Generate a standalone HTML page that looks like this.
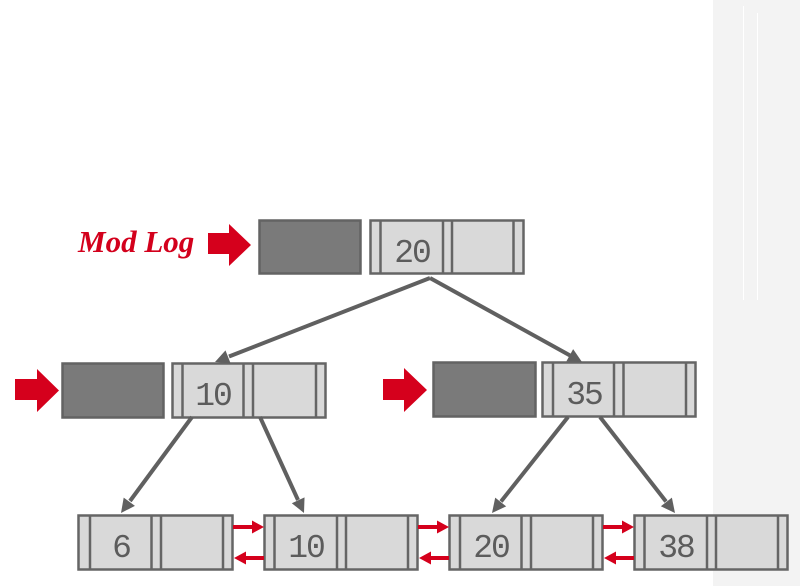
<!DOCTYPE html>
<html>
<head>
<meta charset="utf-8">
<style>
  html,body{margin:0;padding:0;background:#fff;}
  body{width:800px;height:586px;overflow:hidden;position:relative;}
  svg{position:absolute;left:0;top:0;}
  .k{font-family:"Liberation Mono","DejaVu Sans Mono",monospace;font-size:33px;fill:#5c5c5c;letter-spacing:-2px;}
  .ml{font-family:"Liberation Serif",serif;font-style:italic;font-weight:bold;font-size:31px;fill:#d3001c;}
</style>
</head>
<body>
<svg width="800" height="586" viewBox="0 0 800 586" xmlns="http://www.w3.org/2000/svg">
  <!-- right gray strip -->
  <rect x="713" y="0" width="87" height="586" fill="#f3f3f3"/>
  <line x1="743.5" y1="6" x2="743.5" y2="300" stroke="#ffffff" stroke-width="1"/>
  <line x1="757.5" y1="13" x2="757.5" y2="300" stroke="#ffffff" stroke-width="1"/>

  <!-- Mod Log label -->
  <text class="ml" x="78" y="252">Mod Log</text>

  <!-- big red arrows -->
  <polygon points="208,233 229,233 229,224 251,245 229,266 229,254 208,254" fill="#d5001c"/>
  <polygon points="15,379 37,379 37,369 59,390.5 37,412 37,400 15,400" fill="#d5001c"/>
  <polygon points="383,379 404,379 404,368 427,390 404,412 404,400 383,400" fill="#d5001c"/>

  <!-- dark mod log boxes -->
  <rect x="259.5" y="220.5" width="101" height="53" fill="#7a7a7a" stroke="#636363" stroke-width="2.5"/>
  <rect x="62.5" y="363.5" width="101" height="54" fill="#7a7a7a" stroke="#636363" stroke-width="2.5"/>
  <rect x="433.5" y="362.5" width="102" height="54" fill="#7a7a7a" stroke="#636363" stroke-width="2.5"/>

  <!-- key nodes -->
  <g fill="#d9d9d9" stroke="#656565" stroke-width="2.5">
    <!-- root -->
    <rect x="370.5" y="220.5" width="153" height="53"/>
    <line x1="380.5" y1="220.5" x2="380.5" y2="273.5"/>
    <line x1="443" y1="220.5" x2="443" y2="273.5"/>
    <line x1="452" y1="220.5" x2="452" y2="273.5"/>
    <line x1="513.5" y1="220.5" x2="513.5" y2="273.5"/>
    <!-- L2 left -->
    <rect x="172.5" y="363.5" width="153" height="54"/>
    <line x1="182.5" y1="363.5" x2="182.5" y2="417.5"/>
    <line x1="243.5" y1="363.5" x2="243.5" y2="417.5"/>
    <line x1="253" y1="363.5" x2="253" y2="417.5"/>
    <line x1="316" y1="363.5" x2="316" y2="417.5"/>
    <!-- L2 right -->
    <rect x="542.5" y="362.5" width="153" height="54"/>
    <line x1="553" y1="362.5" x2="553" y2="416.5"/>
    <line x1="614" y1="362.5" x2="614" y2="416.5"/>
    <line x1="623.5" y1="362.5" x2="623.5" y2="416.5"/>
    <line x1="686" y1="362.5" x2="686" y2="416.5"/>
    <!-- leaves -->
    <rect x="78.5" y="515.5" width="154" height="54"/>
    <line x1="90" y1="515.5" x2="90" y2="569.5"/>
    <line x1="151.5" y1="515.5" x2="151.5" y2="569.5"/>
    <line x1="161" y1="515.5" x2="161" y2="569.5"/>
    <line x1="223" y1="515.5" x2="223" y2="569.5"/>

    <rect x="264.5" y="515.5" width="153" height="54"/>
    <line x1="274.5" y1="515.5" x2="274.5" y2="569.5"/>
    <line x1="337" y1="515.5" x2="337" y2="569.5"/>
    <line x1="346" y1="515.5" x2="346" y2="569.5"/>
    <line x1="408" y1="515.5" x2="408" y2="569.5"/>

    <rect x="449.5" y="515.5" width="153" height="54"/>
    <line x1="460" y1="515.5" x2="460" y2="569.5"/>
    <line x1="521.5" y1="515.5" x2="521.5" y2="569.5"/>
    <line x1="531" y1="515.5" x2="531" y2="569.5"/>
    <line x1="593" y1="515.5" x2="593" y2="569.5"/>

    <rect x="634.5" y="515.5" width="153" height="54"/>
    <line x1="644.5" y1="515.5" x2="644.5" y2="569.5"/>
    <line x1="707" y1="515.5" x2="707" y2="569.5"/>
    <line x1="716" y1="515.5" x2="716" y2="569.5"/>
    <line x1="778" y1="515.5" x2="778" y2="569.5"/>
  </g>

  <!-- keys -->
  <text class="k" x="412" y="262" text-anchor="middle">20</text>
  <text class="k" x="213" y="405" text-anchor="middle">10</text>
  <text class="k" x="584" y="404" text-anchor="middle">35</text>
  <text class="k" x="121" y="557" text-anchor="middle">6</text>
  <text class="k" x="306" y="557" text-anchor="middle">10</text>
  <text class="k" x="491" y="557" text-anchor="middle">20</text>
  <text class="k" x="676" y="557" text-anchor="middle">38</text>

  <!-- gray connectors -->
  <g stroke="#606060" stroke-width="4" fill="none">
    <line x1="430" y1="278" x2="229" y2="356.5"/>
    <line x1="430" y1="278" x2="571" y2="356"/>
    <line x1="192" y1="417" x2="130" y2="501"/>
    <line x1="260" y1="417" x2="298" y2="500"/>
    <line x1="568" y1="417" x2="501" y2="501.5"/>
    <line x1="600" y1="417" x2="666" y2="501.5"/>
  </g>
  <g fill="#606060">
    <polygon points="215,362 225.49,350.38 230.59,363.42"/>
    <polygon points="582,362 566.36,361.36 573.14,349.10"/>
    <polygon points="121,513 123.69,497.58 134.95,505.90"/>
    <polygon points="304,513 291.81,503.19 304.53,497.35"/>
    <polygon points="492,513 495.2,497.67 506.18,506.37"/>
    <polygon points="675,513 660.86,506.28 671.9,497.66"/>
  </g>

  <!-- red leaf sibling arrows -->
  <g fill="#d5001c">
    <rect x="233" y="525" width="20" height="4"/>
    <polygon points="252,520.5 264,527 252,533.5"/>
    <rect x="245" y="556" width="19" height="4"/>
    <polygon points="246,551.5 234,558 246,564.5"/>

    <rect x="418" y="525" width="20" height="4"/>
    <polygon points="437,520.5 449,527 437,533.5"/>
    <rect x="430" y="556" width="19" height="4"/>
    <polygon points="431,551.5 419,558 431,564.5"/>

    <rect x="603" y="525" width="20" height="4"/>
    <polygon points="622,520.5 634,527 622,533.5"/>
    <rect x="615" y="556" width="19" height="4"/>
    <polygon points="616,551.5 604,558 616,564.5"/>
  </g>
</svg>
</body>
</html>
